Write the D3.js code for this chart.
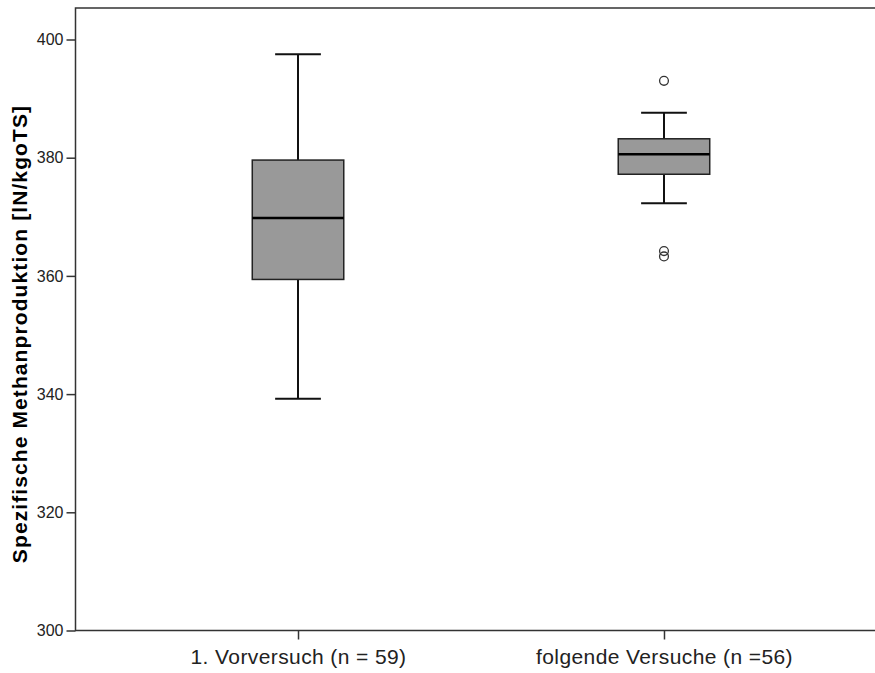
<!DOCTYPE html>
<html><head><meta charset="utf-8">
<script src="https://cdn.jsdelivr.net/npm/d3@7"></script>
<style>html,body{margin:0;background:#fff;overflow:hidden}svg{display:block}text{font-family:"Liberation Sans",Arial,sans-serif}</style>
</head><body><div id="chart"></div>
<script>
const categories = ["1. Vorversuch (n = 59)", "folgende Versuche (n =56)"];
const whiskerLow = [339.2, 372.3];
const q1 = [359.4, 377.2];
const median = [369.8, 380.6];
const q3 = [379.6, 383.2];
const whiskerHigh = [397.5, 387.6];
const outliers = [[], [393.0, 364.2, 363.3]];
const yTicks = [300, 320, 340, 360, 380, 400];
const yLabel = "Spezifische Methanproduktion [lN/kgoTS]";

(function () {
const W = 875, H = 673;
const mLeft = 75.5, mRight = 886.5, mTop = 8, mBottom = 630.5;
const svg = d3.select("#chart").append("svg").attr("width", W).attr("height", H);

const y = d3.scaleLinear().domain([300, 400]).range([mBottom, 39.5]);
const x = d3.scalePoint().domain(categories).range([mLeft, mRight]).padding(0.608);
const boxW = x.step() * 0.25, capW = boxW * 0.5;

svg.append("path").attr("d", `M${W},${mTop}H${mLeft}V${mBottom}H${W}`)
  .attr("fill", "none").attr("stroke", "#333").attr("stroke-width", 1.5);

const ya = svg.append("g").attr("transform", `translate(${mLeft},0)`)
  .call(d3.axisLeft(y).tickValues(yTicks).tickSize(9).tickSizeOuter(0).tickPadding(3));
ya.select(".domain").remove();
ya.selectAll("line").attr("stroke", "#333").attr("stroke-width", 1.5);
ya.selectAll("text").attr("fill", "#222").style("font-size", "16px");

const xa = svg.append("g").attr("transform", `translate(0,${mBottom})`)
  .call(d3.axisBottom(x).tickSize(9).tickSizeOuter(0).tickPadding(10));
xa.select(".domain").remove();
xa.selectAll("line").attr("stroke", "#333").attr("stroke-width", 1.5);
xa.selectAll("text").attr("fill", "#222").style("font-size", "21px").style("letter-spacing", "0.4px");

svg.append("text").attr("transform", `translate(27,334) rotate(-90)`)
  .attr("text-anchor", "middle").style("font-size", "21px").style("font-weight", "bold")
  .style("letter-spacing", "1.1px").attr("fill", "#000")
  .text(yLabel);

const g = svg.append("g");
categories.forEach((c, i) => {
  const cx = x(c);
  const grp = g.append("g");
  grp.append("line").attr("x1", cx).attr("x2", cx).attr("y1", y(whiskerHigh[i])).attr("y2", y(q3[i]))
    .attr("stroke", "#111").attr("stroke-width", 2);
  grp.append("line").attr("x1", cx).attr("x2", cx).attr("y1", y(q1[i])).attr("y2", y(whiskerLow[i]))
    .attr("stroke", "#111").attr("stroke-width", 2);
  [whiskerHigh[i], whiskerLow[i]].forEach(v => {
    grp.append("line").attr("x1", cx - capW / 2).attr("x2", cx + capW / 2).attr("y1", y(v)).attr("y2", y(v))
      .attr("stroke", "#111").attr("stroke-width", 2);
  });
  grp.append("rect").attr("x", cx - boxW / 2).attr("y", y(q3[i])).attr("width", boxW)
    .attr("height", y(q1[i]) - y(q3[i])).attr("fill", "#999999").attr("stroke", "#222").attr("stroke-width", 1.5);
  grp.append("line").attr("x1", cx - boxW / 2).attr("x2", cx + boxW / 2).attr("y1", y(median[i])).attr("y2", y(median[i]))
    .attr("stroke", "#000").attr("stroke-width", 2.5);
  outliers[i].forEach(v => {
    grp.append("circle").attr("cx", cx).attr("cy", y(v)).attr("r", 4.4)
      .attr("fill", "none").attr("stroke", "#333").attr("stroke-width", 1.3);
  });
});
})();
</script></body></html>
